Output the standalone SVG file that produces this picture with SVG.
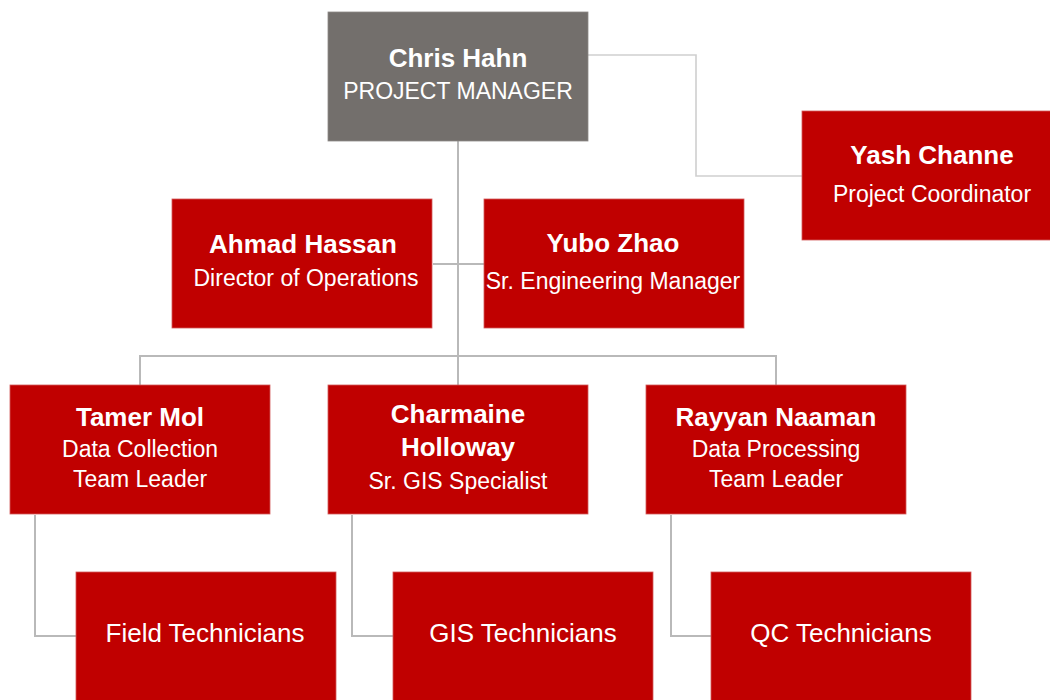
<svg xmlns="http://www.w3.org/2000/svg" width="1050" height="700" viewBox="0 0 1050 700">
  <style>
    .box { fill: #c00000; stroke: #d25a5a; stroke-width: 0.8; }
    .boss { fill: #736f6c; stroke: #8d8987; stroke-width: 0.8; }
    .link { fill: none; stroke: #b9b9b9; stroke-width: 2; }
    .link-light { fill: none; stroke: #cfcfcf; stroke-width: 1.6; }
    text { font-family: "Liberation Sans", Arial, Helvetica, sans-serif; fill: #ffffff; text-anchor: middle; }
    .name { font-size: 26px; font-weight: bold; }
    .role { font-size: 23px; }
    .team { font-size: 26px; }
  </style>
  <rect width="1050" height="700" fill="#ffffff"/>

  <!-- connectors -->
  <g id="connectors">
    <path class="link-light" d="M588 55 H696 V176 H802"/>
    <path class="link" d="M458 141 V385"/>
    <path class="link" d="M433 264 H484"/>
    <path class="link" d="M140 385 V356 H776 V385"/>
    <path class="link" d="M35 515 V636 H76"/>
    <path class="link" d="M352 515 V636 H393"/>
    <path class="link" d="M671 515 V636 H711"/>
  </g>

  <!-- project manager -->
  <g id="chris-hahn">
    <rect class="boss" x="328" y="12" width="260" height="129"/>
    <text class="name" x="458" y="67">Chris Hahn</text>
    <text class="role" x="458" y="99">PROJECT MANAGER</text>
  </g>

  <g id="yash-channe">
    <rect class="box" x="802" y="111" width="262" height="129"/>
    <text class="name" x="932" y="164">Yash Channe</text>
    <text class="role" x="932" y="202">Project Coordinator</text>
  </g>

  <g id="ahmad-hassan">
    <rect class="box" x="172" y="199" width="260" height="129"/>
    <text class="name" x="303" y="253">Ahmad Hassan</text>
    <text class="role" x="306" y="286">Director of Operations</text>
  </g>

  <g id="yubo-zhao">
    <rect class="box" x="484" y="199" width="260" height="129"/>
    <text class="name" x="613" y="252">Yubo Zhao</text>
    <text class="role" x="613" y="289">Sr. Engineering Manager</text>
  </g>

  <!-- team leads -->
  <g id="tamer-mol">
    <rect class="box" x="10" y="385" width="260" height="129"/>
    <text class="name" x="140" y="426">Tamer Mol</text>
    <text class="role" x="140" y="457">Data Collection</text>
    <text class="role" x="140" y="487">Team Leader</text>
  </g>

  <g id="charmaine-holloway">
    <rect class="box" x="328" y="385" width="260" height="129"/>
    <text class="name" x="458" y="423">Charmaine</text>
    <text class="name" x="458" y="456">Holloway</text>
    <text class="role" x="458" y="489">Sr. GIS Specialist</text>
  </g>

  <g id="rayyan-naaman">
    <rect class="box" x="646" y="385" width="260" height="129"/>
    <text class="name" x="776" y="426">Rayyan Naaman</text>
    <text class="role" x="776" y="457">Data Processing</text>
    <text class="role" x="776" y="487">Team Leader</text>
  </g>

  <!-- technician teams -->
  <g id="field-technicians">
    <rect class="box" x="76" y="572" width="260" height="140"/>
    <text class="team" x="205" y="642">Field Technicians</text>
  </g>

  <g id="gis-technicians">
    <rect class="box" x="393" y="572" width="260" height="140"/>
    <text class="team" x="523" y="642">GIS Technicians</text>
  </g>

  <g id="qc-technicians">
    <rect class="box" x="711" y="572" width="260" height="140"/>
    <text class="team" x="841" y="642">QC Technicians</text>
  </g>
</svg>
